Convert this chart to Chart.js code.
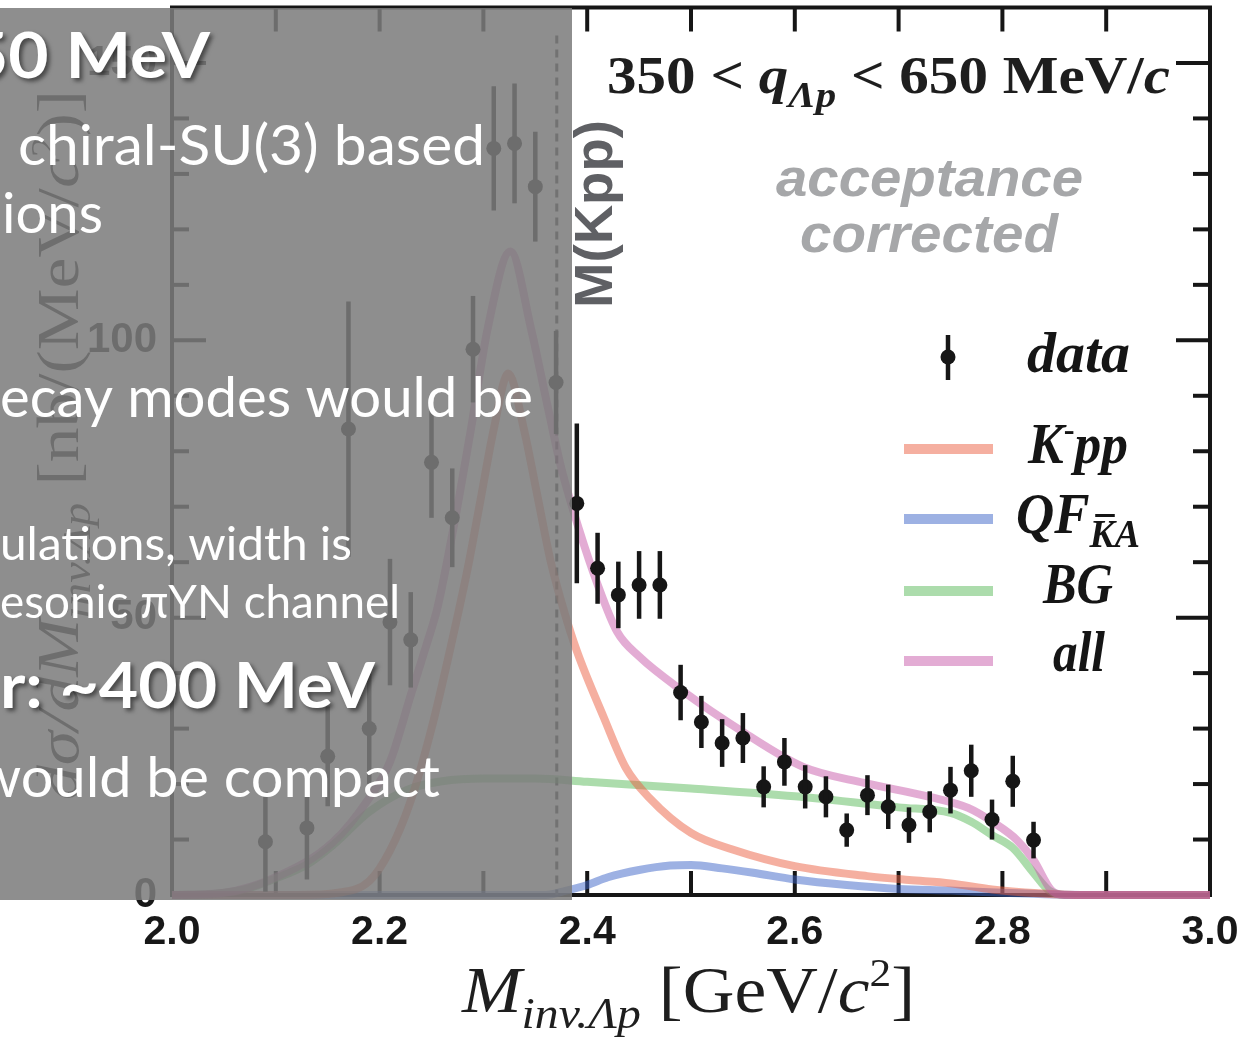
<!DOCTYPE html>
<html>
<head>
<meta charset="utf-8">
<script src="https://cdn.jsdelivr.net/npm/chart.js"></script>
<style>
  body { margin: 0; background: #fff; }
  canvas { display: block; }
</style>
</head>
<body>
<canvas id="lambdaP" width="1241" height="1044"></canvas>
<script>
// measured points (bin centres, GeV/c^2) and cross section [nb/(MeV/c^2)]
const dataX = [2.09, 2.13, 2.15, 2.17, 2.19, 2.21, 2.23, 2.25, 2.27, 2.29, 2.31, 2.33, 2.35, 2.37,
  2.39, 2.41, 2.43, 2.45, 2.47, 2.49, 2.51, 2.53, 2.55, 2.57, 2.59, 2.61, 2.63, 2.65, 2.67, 2.69,
  2.71, 2.73, 2.75, 2.77, 2.79, 2.81, 2.83];
const dataY = [9.6, 12.1, 25, 84, 30, 49.2, 46, 78, 68, 98.4, 134.6, 135.5, 127.7, 92.4,
  70.6, 58.9, 54.1, 55.9, 55.9, 36.5, 31.2, 27.4, 28.3, 19.5, 24.0, 19.5, 17.7, 11.7, 18.0, 15.9,
  12.6, 15.0, 18.9, 22.4, 13.6, 20.5, 9.9];
const dataErr = [9, 9.3, 9, 23, 10, 11.4, 8.6, 10, 8.9, 9.6, 11.2, 10.8, 9.9, 9.3,
  14.4, 6.4, 6.0, 6.1, 6.1, 5.0, 4.7, 4.3, 4.5, 3.7, 4.3, 3.9, 3.7, 3.0, 3.6, 4.0,
  3.2, 3.7, 4.2, 4.7, 3.6, 4.6, 3.3];

// fit components
const kppX = [2.00, 2.12, 2.16, 2.19, 2.21, 2.23, 2.25, 2.27, 2.285, 2.297, 2.31, 2.324, 2.339, 2.352,
  2.365, 2.378, 2.39, 2.416, 2.437, 2.46, 2.50, 2.54, 2.60, 2.67, 2.71, 2.75, 2.79, 2.835, 2.87, 3.00];
const kppY = [0, 0, 0.4, 2.5, 8, 17, 30, 46, 59, 71, 84, 94, 84, 72,
  60, 51, 44, 32, 23, 17.5, 11.2, 8.2, 5.2, 3.4, 2.7, 2.1, 1.0, 0.3, 0, 0];

const qfX = [2.00, 2.36, 2.38, 2.40, 2.42, 2.45, 2.48, 2.50, 2.53, 2.56, 2.60, 2.65, 2.70, 2.75, 2.80, 2.85, 2.90, 3.00];
const qfY = [0, 0, 0.8, 1.8, 3.2, 4.5, 5.3, 5.4, 4.8, 4.0, 2.8, 1.8, 1.1, 0.8, 0.4, 0.1, 0, 0];

const bgX = [2.00, 2.04, 2.07, 2.10, 2.13, 2.155, 2.19, 2.227, 2.26, 2.30, 2.35, 2.40, 2.50, 2.60,
  2.70, 2.75, 2.77, 2.79, 2.81, 2.83, 2.845, 2.86, 3.00];
const bgY = [0, 0.2, 1, 3, 5.5, 9, 15, 19, 20.5, 21, 21, 20.4, 19.2, 17.8,
  15.8, 14.8, 13.2, 10.8, 8.5, 4, 0.8, 0, 0];

const allX = [2.00, 2.05, 2.10, 2.155, 2.19, 2.21, 2.23, 2.245, 2.256, 2.271, 2.288, 2.304, 2.326, 2.346,
  2.362, 2.375, 2.392, 2.41, 2.429, 2.45, 2.491, 2.55, 2.608, 2.667, 2.73, 2.767, 2.792, 2.814, 2.83,
  2.847, 2.86, 3.00];
const allY = [0, 0.4, 3.2, 9.5, 17.5, 24, 36, 45, 52, 66, 84, 102, 116, 102,
  88, 77, 66, 56, 47.4, 43, 36.9, 29.4, 23.1, 20.2, 17.7, 15.7, 13.0, 9.9, 6.3,
  0.9, 0, 0];

const kppThreshold = [2.3707];   // M(Kpp)

const xTickValues = [2.0, 2.2, 2.4, 2.6, 2.8, 3.0];
const xTickMarks = [2.1, 2.2, 2.3, 2.4, 2.5, 2.6, 2.7, 2.8, 2.9];
const yTickValues = [0, 50, 100, 150];
const yTickMarks = [10, 20, 30, 40, 50, 60, 70, 80, 90, 100, 110, 120, 130, 140, 150];

const COL = {
  kpp: 'rgba(235, 95, 65, 0.5)',
  qf: 'rgba(60, 100, 200, 0.5)',
  bg: 'rgba(90, 185, 90, 0.5)',
  all: 'rgba(200, 90, 170, 0.5)',
  ink: '#161616'
};

const pts = (xs, ys) => xs.map((v, i) => ({ x: v, y: ys[i] }));

const SERIF = '"Liberation Serif", "DejaVu Serif", serif';
const SANS = '"Liberation Sans", Arial, sans-serif';
const SLIDE = 'Lato, "Open Sans", sans-serif';

// draw a row of text pieces, stretched so it spans `width`
function richText(ctx, runs, x, y, width, rotate) {
  let total = 0;
  const ws = runs.map(r => {
    ctx.font = r.font;
    const w = ctx.measureText(r.t).width;
    total += w;
    return w;
  });
  const sx = width / total;
  ctx.save();
  ctx.translate(x, y);
  if (rotate) ctx.rotate(-Math.PI / 2);
  ctx.scale(sx, 1);
  ctx.textBaseline = 'alphabetic';
  ctx.textAlign = 'left';
  let cx = 0;
  runs.forEach((r, i) => {
    ctx.font = r.font;
    ctx.fillText(r.t, cx, r.dy || 0);
    if (r.bar) ctx.fillRect(cx + 6, (r.dy || 0) - 33, ws[i] - 6, 3);
    cx += ws[i];
  });
  ctx.restore();
}

function seg(ctx, x1, y1, x2, y2) {
  ctx.beginPath();
  ctx.moveTo(x1, y1);
  ctx.lineTo(x2, y2);
  ctx.stroke();
}

const plotDecor = {
  id: 'plotDecor',
  beforeDatasetsDraw(chart) {
    const { ctx, chartArea: a, scales: { x, y } } = chart;
    ctx.save();
    ctx.strokeStyle = COL.ink;
    ctx.lineWidth = 4;
    xTickMarks.forEach(v => {
      const px = x.getPixelForValue(v);
      seg(ctx, px, a.bottom, px, a.bottom - 24);
      seg(ctx, px, a.top, px, a.top + 24);
    });
    yTickMarks.forEach(v => {
      const py = y.getPixelForValue(v);
      const len = v % 50 === 0 ? 34 : 17;
      seg(ctx, a.left, py, a.left + len, py);
      seg(ctx, a.right, py, a.right - len, py);
    });
    ctx.strokeRect(a.left, a.top, a.right - a.left, a.bottom - a.top);

    // threshold line
    ctx.setLineDash([8, 6]);
    ctx.lineWidth = 3;
    ctx.strokeStyle = '#3a3a3a';
    const tx = x.getPixelForValue(kppThreshold[0]);
    seg(ctx, tx, a.top + 28, tx, a.bottom);
    ctx.restore();
  },
  afterDatasetsDraw(chart) {
    const { ctx, scales: { x, y } } = chart;
    ctx.save();
    // error bars
    ctx.strokeStyle = COL.ink;
    ctx.lineWidth = 4.5;
    dataX.forEach((v, i) => {
      const px = x.getPixelForValue(v);
      seg(ctx, px, y.getPixelForValue(dataY[i] + dataErr[i]), px, y.getPixelForValue(Math.max(0, dataY[i] - dataErr[i])));
    });

    // axis titles
    ctx.fillStyle = '#1e1e1e';
    richText(ctx, [
      { t: 'M', font: 'italic 66px ' + SERIF },
      { t: 'inv.Λp', font: 'italic 44px ' + SERIF, dy: 16 },
      { t: ' [GeV/', font: '66px ' + SERIF },
      { t: 'c', font: 'italic 66px ' + SERIF },
      { t: '2', font: '40px ' + SERIF, dy: -26 },
      { t: ']', font: '66px ' + SERIF }
    ], 462, 1012, 453, false);
    richText(ctx, [
      { t: 'dσ/d', font: 'italic 60px ' + SERIF },
      { t: 'M', font: 'italic 60px ' + SERIF },
      { t: 'inv.Λp', font: 'italic 40px ' + SERIF, dy: 12 },
      { t: ' [nb/(MeV/', font: '60px ' + SERIF },
      { t: 'c', font: 'italic 60px ' + SERIF },
      { t: '2', font: '36px ' + SERIF, dy: -22 },
      { t: ')]', font: '60px ' + SERIF }
    ], 78, 800, 710, true);

    // cut label
    richText(ctx, [
      { t: '350 < ', font: 'bold 52px ' + SERIF },
      { t: 'q', font: 'bold italic 52px ' + SERIF },
      { t: 'Λp', font: 'bold italic 36px ' + SERIF, dy: 14 },
      { t: ' < 650 MeV/', font: 'bold 52px ' + SERIF },
      { t: 'c', font: 'bold italic 52px ' + SERIF }
    ], 607, 93, 563, false);

    ctx.fillStyle = '#a6a7a9';
    richText(ctx, [{ t: 'acceptance', font: 'bold italic 54px ' + SANS }], 776, 196, 307, false);
    richText(ctx, [{ t: 'corrected', font: 'bold italic 54px ' + SANS }], 800, 252, 258, false);

    ctx.fillStyle = '#5f6064';
    richText(ctx, [{ t: 'M(Kpp)', font: 'bold 54px ' + SANS }], 612, 308, 188, true);

    // legend
    ctx.strokeStyle = COL.ink;
    ctx.lineWidth = 4.5;
    seg(ctx, 948, 335, 948, 380);
    ctx.fillStyle = COL.ink;
    ctx.beginPath();
    ctx.arc(948, 357, 7.5, 0, Math.PI * 2);
    ctx.fill();
    const legendLines = [[COL.kpp, 449], [COL.qf, 519], [COL.bg, 591], [COL.all, 661]];
    ctx.lineWidth = 10;
    legendLines.forEach(([c, ly]) => {
      ctx.strokeStyle = c;
      seg(ctx, 904, ly, 993, ly);
    });
    ctx.fillStyle = '#151515';
    const lf = 'bold italic 56px ' + SERIF;
    richText(ctx, [{ t: 'data', font: lf }], 1027, 372, 103, false);
    richText(ctx, [
      { t: 'K', font: lf },
      { t: '-', font: 'bold 34px ' + SERIF, dy: -22 },
      { t: 'pp', font: lf }
    ], 1028, 463, 100, false);
    richText(ctx, [
      { t: 'QF', font: lf },
      { t: 'K', font: 'bold italic 40px ' + SERIF, dy: 14, bar: true },
      { t: 'A', font: 'bold italic 40px ' + SERIF, dy: 14 }
    ], 1016, 533, 124, false);
    richText(ctx, [{ t: 'BG', font: lf }], 1043, 603, 70, false);
    richText(ctx, [{ t: 'all', font: lf }], 1053, 671, 52, false);
    ctx.restore();
  },
  afterDraw(chart) {
    const { ctx } = chart;
    ctx.save();
    // slide panel lying over the left part of the figure
    ctx.fillStyle = 'rgba(124, 124, 124, 0.86)';
    ctx.fillRect(0, 8, 572, 892);
    ctx.beginPath();
    ctx.rect(0, 8, 572, 892);
    ctx.clip();
    ctx.fillStyle = '#ffffff';
    const body = '56px ' + SLIDE;
    const small = '46px ' + SLIDE;
    const head = 'bold 63px ' + SLIDE;
    const lines = [
      ['50 MeV', head, -32, 210, 78, true],
      ['chiral-SU(3) based', body, 18, 485, 165, false],
      ['ions', body, 2, 103, 233, false],
      ['ecay modes would be', body, 0, 533, 417, false],
      ['ulations, width is', small, 0, 352, 560, false],
      ['esonic πYN channel', small, 0, 400, 618, false],
      ['r: ~400 MeV', head, 0, 375, 708, true],
      ['would be compact', body, -24, 440, 797, false]
    ];
    lines.forEach(([t, f, l, r, b, sh]) => {
      if (sh) {
        ctx.shadowColor = 'rgba(0, 0, 0, 0.5)';
        ctx.shadowOffsetX = 3;
        ctx.shadowOffsetY = 3;
        ctx.shadowBlur = 4;
      } else {
        ctx.shadowColor = 'rgba(0, 0, 0, 0)';
      }
      richText(ctx, [{ t: t, font: f }], l, b, r - l, false);
    });
    ctx.restore();
  }
};

const lineSet = (label, xs, ys, color) => ({
  label: label,
  data: pts(xs, ys),
  borderColor: color,
  backgroundColor: color,
  borderWidth: 8,
  pointRadius: 0,
  fill: false,
  showLine: true,
  cubicInterpolationMode: 'monotone',
  clip: false
});

// keep the plot frame where the figure has it: no automatic room for edge labels
const noEdgePadding = s => {
  s.paddingTop = 0;
  s.paddingBottom = 0;
  s.paddingLeft = 0;
  s.paddingRight = 0;
};

new Chart(document.getElementById('lambdaP'), {
  type: 'line',
  data: {
    datasets: [
      {
        label: 'data',
        data: pts(dataX, dataY),
        showLine: false,
        pointRadius: 7.5,
        pointHoverRadius: 7.5,
        pointBackgroundColor: COL.ink,
        pointBorderWidth: 0,
        borderColor: COL.ink
      },
      lineSet('all', allX, allY, COL.all),
      lineSet('K-pp', kppX, kppY, COL.kpp),
      lineSet('QF', qfX, qfY, COL.qf),
      lineSet('BG', bgX, bgY, COL.bg)
    ]
  },
  plugins: [plotDecor],
  options: {
    responsive: false,
    devicePixelRatio: 1,
    animation: false,
    events: [],
    layout: { padding: { top: 7, right: 31, left: 0, bottom: 0 } },
    plugins: {
      legend: { display: false },
      tooltip: { enabled: false }
    },
    scales: {
      x: {
        type: 'linear',
        min: 2.0,
        max: 3.0,
        afterBuildTicks: s => { s.ticks = xTickValues.map(v => ({ value: v })); },
        afterFit: s => { s.height = 149; noEdgePadding(s); },
        grid: { display: false, drawTicks: false },
        border: { display: false },
        ticks: {
          padding: 13,
          maxRotation: 0,
          color: '#181818',
          font: { family: 'Liberation Sans', size: 41, weight: 'bold' },
          callback: v => v.toFixed(1)
        }
      },
      y: {
        type: 'linear',
        min: 0,
        max: 160,
        afterBuildTicks: s => { s.ticks = yTickValues.map(v => ({ value: v })); },
        afterFit: s => { s.width = 172; noEdgePadding(s); },
        grid: { display: false, drawTicks: false },
        border: { display: false },
        ticks: {
          padding: 15,
          color: '#181818',
          font: { family: 'Liberation Sans', size: 42, weight: 'bold' }
        }
      }
    }
  }
});
</script>
</body>
</html>
